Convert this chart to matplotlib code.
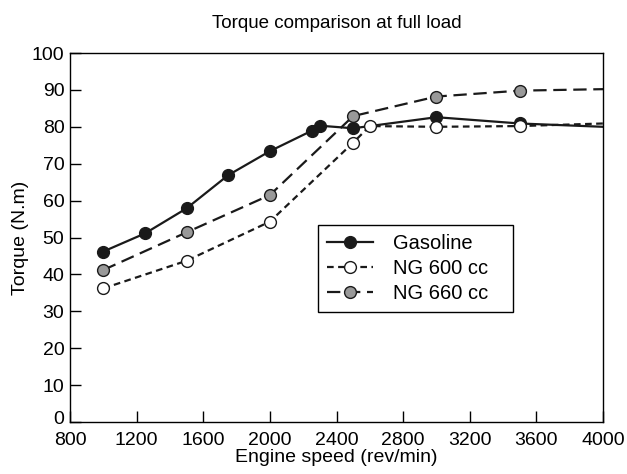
from matplotlib import pyplot as plt
from matplotlib import transforms

# --------------------------- Data ---------------------------

gas_rpm = [1000, 1250, 1500, 1750, 2000, 2250, 2300, 2500, 3000, 3500, 4000]
gas_torque = [46.2, 51.1, 57.9, 66.9, 73.4, 78.9, 80.3, 79.6, 82.6, 80.9, 80.0]

ng600_rpm = [1000, 1500, 2000, 2500, 2600, 3000, 3500, 4000]
ng600_torque = [36.2, 43.7, 54.3, 75.7, 80.2, 80.0, 80.2, 80.9]

ng660_rpm = [1000, 1500, 2000, 2500, 3000, 3500, 4000]
ng660_torque = [41.2, 51.4, 61.5, 82.9, 88.2, 89.8, 90.2]

x_ticks = [800, 1200, 1600, 2000, 2400, 2800, 3200, 3600, 4000]
y_ticks = [0, 10, 20, 30, 40, 50, 60, 70, 80, 90, 100]

# ------------------------- Plot -----------------------------

plt.rcParams['font.family'] = ['Liberation Sans', 'DejaVu Sans']

fig = plt.figure(figsize=(6.27, 4.74), dpi=100)
ax = fig.add_axes([70 / 627, 52 / 474, 533 / 627, 369 / 474])

ms = 8.5
# last point of each series has no marker (line just runs on to the edge)
ax.plot(gas_rpm, gas_torque, color='#1a1a1a', lw=1.6, ls='-',
        marker='o', ms=ms, mfc='#1a1a1a', mec='#1a1a1a',
        markevery=list(range(len(gas_rpm) - 1)), label='Gasoline')
ax.plot(ng600_rpm, ng600_torque, color='#1a1a1a', lw=1.6, ls=(0, (3, 2)),
        marker='o', ms=ms, mfc='white', mec='#1a1a1a',
        markevery=list(range(len(ng600_rpm) - 1)), label='NG 600 cc')
ax.plot(ng660_rpm, ng660_torque, color='#1a1a1a', lw=1.6, ls=(0, (6, 3)),
        marker='o', ms=ms, mfc='#999999', mec='#1a1a1a',
        markevery=list(range(len(ng660_rpm) - 1)), label='NG 660 cc')

ax.set_xlim(800, 4000)
ax.set_ylim(0, 100)
ax.set_xticks(x_ticks)
ax.set_yticks(y_ticks)
ax.tick_params(direction='in', length=8, width=1, labelsize=14)
ax.tick_params(axis='x', pad=7)
ax.tick_params(axis='y', pad=4)
for s in ax.spines.values():
    s.set_linewidth(1)

# lift the "0" label a little so it clears the "800" below it
zero_lbl = ax.get_yticklabels()[0]
zero_lbl.set_transform(zero_lbl.get_transform() +
                       transforms.ScaledTranslation(0, 3 / 72, fig.dpi_scale_trans))

ax.set_xlabel('Engine speed (rev/min)', fontsize=14, labelpad=0)
ax.set_ylabel('Torque (N.m)', fontsize=14, labelpad=2)
ax.set_title('Torque comparison at full load', fontsize=13.5, pad=18)

leg = ax.legend(loc='upper left', bbox_to_anchor=(0.465, 0.534, 0.366, 0.0),
                mode='expand', borderaxespad=0, fancybox=False,
                edgecolor='black', framealpha=1,
                handlelength=2.3, handletextpad=1.0, fontsize=14.5,
                borderpad=0.45, labelspacing=0.3)
leg.get_frame().set_linewidth(1)

fig.savefig('out.png', dpi=100)
